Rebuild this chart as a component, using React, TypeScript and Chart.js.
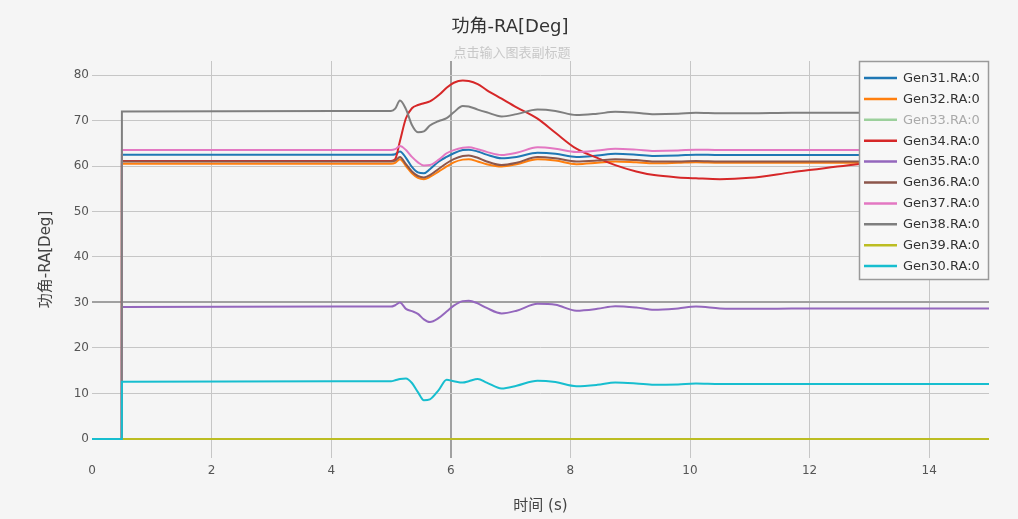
import React, { useEffect, useRef } from "react";
import { Chart, registerables } from "chart.js";

Chart.register(...registerables);

// ---- data ----
const time = [
  0, 0.499, 0.5,
  5.0, 5.07, 5.15, 5.25, 5.35, 5.45, 5.55, 5.65, 5.8, 5.93,
  6.05, 6.2, 6.3, 6.45, 6.6, 6.85, 7.1, 7.45, 7.75, 8.1,
  8.45, 8.75, 9.1, 9.4, 9.8, 10.1, 10.5, 11.0, 11.7, 12.8, 14.0, 15.0,
];

const gen31 = [
  0, 0, 62.5,
  62.5, 62.6, 63.2, 61.8, 59.8, 58.6, 58.4, 59.3, 61.0, 62.0,
  62.8, 63.5, 63.6, 63.2, 62.5, 61.7, 62.0, 62.9, 62.7, 62.0,
  62.3, 62.7, 62.5, 62.2, 62.3, 62.5, 62.4, 62.4, 62.4, 62.4, 62.4, 62.4,
];
const gen32 = [
  0, 0, 60.5,
  60.5, 60.7, 61.5, 60.0, 58.4, 57.4, 57.1, 57.6, 58.8, 59.9,
  60.8, 61.4, 61.5, 61.0, 60.4, 59.9, 60.4, 61.5, 61.2, 60.4,
  60.7, 61.0, 60.8, 60.6, 60.7, 60.8, 60.7, 60.7, 60.7, 60.7, 60.7, 60.7,
];
const gen33 = [
  0, 0, 45.2,
  45.2, 45.3, 45.9, 44.8, 43.5, 42.7, 42.4, 42.9, 44.0, 45.0,
  45.8, 46.3, 46.4, 46.0, 45.4, 44.9, 45.3, 46.1, 45.9, 45.3,
  45.5, 45.8, 45.6, 45.4, 45.5, 45.6, 45.5, 45.5, 45.5, 45.5, 45.5, 45.5,
];
const gen34 = [
  0, 0, 61.1,
  61.1, 61.5, 65.5, 70.5, 72.7, 73.4, 73.8, 74.2, 75.6, 77.2,
  78.3, 78.8, 78.7, 78.0, 76.7, 74.8, 72.9, 70.4, 67.3, 63.8,
  61.8, 60.2, 58.8, 58.0, 57.5, 57.3, 57.1, 57.4, 58.6, 60.4, 61.8, 62.5,
];
const gen35 = [
  0, 0, 29.0,
  29.1, 29.4, 30.0, 28.6, 28.1, 27.5, 26.3, 25.7, 26.6, 28.0,
  29.3, 30.3, 30.4, 29.8, 28.8, 27.6, 28.2, 29.7, 29.5, 28.2,
  28.6, 29.2, 28.9, 28.4, 28.7, 29.1, 28.7, 28.6, 28.7, 28.7, 28.7, 28.7,
];
const gen36 = [
  0, 0, 61.0,
  61.0, 61.2, 62.0, 60.4, 58.8, 57.8, 57.5, 58.0, 59.4, 60.6,
  61.5, 62.2, 62.3, 61.8, 61.0, 60.2, 60.7, 62.0, 61.7, 61.0,
  61.2, 61.5, 61.3, 61.0, 61.0, 61.1, 61.0, 61.0, 61.0, 61.0, 61.0, 61.0,
];
const gen37 = [
  0, 0, 63.5,
  63.5, 63.7, 64.4, 63.5, 62.0, 60.8, 60.1, 60.2, 61.4, 62.8,
  63.5, 64.0, 64.1, 63.7, 63.1, 62.4, 62.9, 64.1, 63.8, 63.1,
  63.4, 63.8, 63.6, 63.3, 63.4, 63.6, 63.5, 63.5, 63.5, 63.5, 63.5, 63.5,
];
const gen38 = [
  0, 0, 72.0,
  72.1, 72.6, 74.4, 72.5, 69.0, 67.4, 67.6, 68.9, 69.9, 70.5,
  71.8, 73.2, 73.1, 72.4, 71.8, 70.9, 71.4, 72.4, 72.1, 71.2,
  71.5, 71.9, 71.7, 71.4, 71.5, 71.7, 71.6, 71.6, 71.7, 71.7, 71.7, 71.7,
];
const gen39 = [
  0, 0, 0,
  0, 0, 0, 0, 0, 0, 0, 0, 0, 0,
  0, 0, 0, 0, 0, 0, 0, 0, 0, 0,
  0, 0, 0, 0, 0, 0, 0, 0, 0, 0, 0, 0,
];
const gen30 = [
  0, 0, 12.6,
  12.7, 12.9, 13.2, 13.3, 12.3, 10.3, 8.5, 8.7, 10.8, 13.0,
  12.7, 12.4, 12.7, 13.2, 12.4, 11.1, 11.7, 12.8, 12.5, 11.6,
  11.9, 12.4, 12.2, 11.9, 12.0, 12.2, 12.1, 12.1, 12.1, 12.1, 12.1, 12.1,
];

const seriesNames = [
  "Gen31.RA:0", "Gen32.RA:0", "Gen33.RA:0", "Gen34.RA:0", "Gen35.RA:0",
  "Gen36.RA:0", "Gen37.RA:0", "Gen38.RA:0", "Gen39.RA:0", "Gen30.RA:0",
];
const seriesValues = [gen31, gen32, gen33, gen34, gen35, gen36, gen37, gen38, gen39, gen30];
const seriesColors = [
  "#1f77b4", "#ff7f0e", "#2ca02c", "#d62728", "#9467bd",
  "#8c564b", "#e377c2", "#7f7f7f", "#bcbd22", "#17becf",
];
const seriesHidden = [false, false, true, false, false, false, false, false, false, false];

const xTicks = [0, 2, 4, 6, 8, 10, 12, 14];
const yTicks = [0, 10, 20, 30, 40, 50, 60, 70, 80];

const titleText = "功角-RA[Deg]";
const subtitleText = "点击输入图表副标题";
const xTitle = "时间 (s)";
const yTitle = "功角-RA[Deg]";

const FONT = "'DejaVu Sans', Verdana, 'Noto Sans CJK SC', sans-serif";
const BG = "#f5f5f5";

const decorPlugin = {
  id: "decor",
  beforeDraw(chart: any) {
    const { ctx, width, height } = chart;
    ctx.save();
    ctx.fillStyle = BG;
    ctx.fillRect(0, 0, width, height);
    ctx.restore();
  },
  afterDraw(chart: any) {
    const { ctx, chartArea } = chart;
    const cx = (chartArea.left + chartArea.right) / 2;
    ctx.save();
    ctx.textAlign = "center";
    ctx.textBaseline = "middle";
    ctx.fillStyle = "#333";
    ctx.font = `18px ${FONT}`;
    ctx.fillText(titleText, 510, 27);
    ctx.fillStyle = "#c8c8c8";
    ctx.font = `13px ${FONT}`;
    ctx.fillText(subtitleText, 512, 54);

    ctx.fillStyle = "#444";
    ctx.font = `15px ${FONT}`;
    ctx.fillText(xTitle, cx, 506);
    ctx.save();
    ctx.translate(46, (chartArea.top + chartArea.bottom) / 2);
    ctx.rotate(-Math.PI / 2);
    ctx.fillText(yTitle, 0, 0);
    ctx.restore();

    // legend
    const lx = 859, ly = 61, lw = 130, lh = 219;
    ctx.fillStyle = "#f7f7f7";
    ctx.fillRect(lx, ly, lw, lh);
    ctx.strokeStyle = "#9a9a9a";
    ctx.lineWidth = 1.5;
    ctx.strokeRect(lx + 0.5, ly + 0.5, lw - 1, lh - 1);
    ctx.font = `13px ${FONT}`;
    ctx.textAlign = "left";
    chart.data.datasets.forEach((ds: any, i: number) => {
      const y = 78 + i * 20.9;
      const hidden = seriesHidden[i];
      ctx.globalAlpha = hidden ? 0.45 : 1;
      ctx.strokeStyle = ds.borderColor;
      ctx.lineWidth = 2.5;
      ctx.beginPath();
      ctx.moveTo(864, y);
      ctx.lineTo(897, y);
      ctx.stroke();
      ctx.globalAlpha = 1;
      ctx.fillStyle = hidden ? "#aaaaaa" : "#333";
      ctx.fillText(ds.label, 903, y + 0.5);
    });
    ctx.restore();
  },
};

export default function App() {
  const ref = useRef<HTMLCanvasElement | null>(null);

  useEffect(() => {
    document.body.style.margin = "0";
    const canvas = ref.current;
    if (!canvas) return;
    const datasets = seriesNames.map((name, i) => ({
      label: name,
      data: time.map((t, j) => ({ x: t, y: seriesValues[i][j] })),
      borderColor: seriesColors[i],
      backgroundColor: seriesColors[i],
      borderWidth: 2,
      pointRadius: 0,
      fill: false,
      cubicInterpolationMode: "monotone" as const,
      hidden: seriesHidden[i],
      order: -i,
    }));

    const chart = new Chart(canvas, {
      type: "line",
      data: { datasets },
      options: {
        responsive: false,
        animation: false,
        layout: { padding: { left: 0, right: 29, top: 61, bottom: 0 } },
        plugins: {
          legend: { display: false },
          tooltip: { enabled: false },
          title: { display: false },
        },
        scales: {
          x: {
            type: "linear",
            min: 0,
            max: 15,
            afterBuildTicks: (s: any) => {
              s.ticks = xTicks.map((v) => ({ value: v }));
            },
            afterFit: (s: any) => {
              s.height = 61;
            },
            border: { display: false },
            grid: {
              drawTicks: false,
              color: (c: any) =>
                c.tick && c.tick.value === 0 ? "rgba(0,0,0,0)" : c.tick && c.tick.value === 6 ? "#a0a0a0" : "#c6c6c6",
              lineWidth: (c: any) => (c.tick && c.tick.value === 6 ? 2 : 1),
            },
            ticks: {
              padding: 6,
              color: "#555",
              font: { family: FONT, size: 12 },
              maxRotation: 0,
              callback: (v: any) => String(v),
            },
          },
          y: {
            type: "linear",
            min: -4.18,
            max: 83.08,
            afterBuildTicks: (s: any) => {
              s.ticks = yTicks.map((v) => ({ value: v }));
            },
            afterFit: (s: any) => {
              s.width = 92;
            },
            border: { display: false },
            grid: {
              drawTicks: false,
              color: (c: any) => (c.tick && c.tick.value === 30 ? "#a0a0a0" : "#c6c6c6"),
              lineWidth: (c: any) => (c.tick && c.tick.value === 30 ? 2 : 1),
            },
            ticks: {
              padding: 3,
              color: "#555",
              font: { family: FONT, size: 12 },
              callback: (v: any) => String(v),
            },
          },
        },
      },
      plugins: [decorPlugin],
    });
    return () => chart.destroy();
  }, []);

  return (
    <div style={{ width: 1018, height: 519, background: BG }}>
      <canvas ref={ref} width={1018} height={519} style={{ display: "block" }} />
    </div>
  );
}
